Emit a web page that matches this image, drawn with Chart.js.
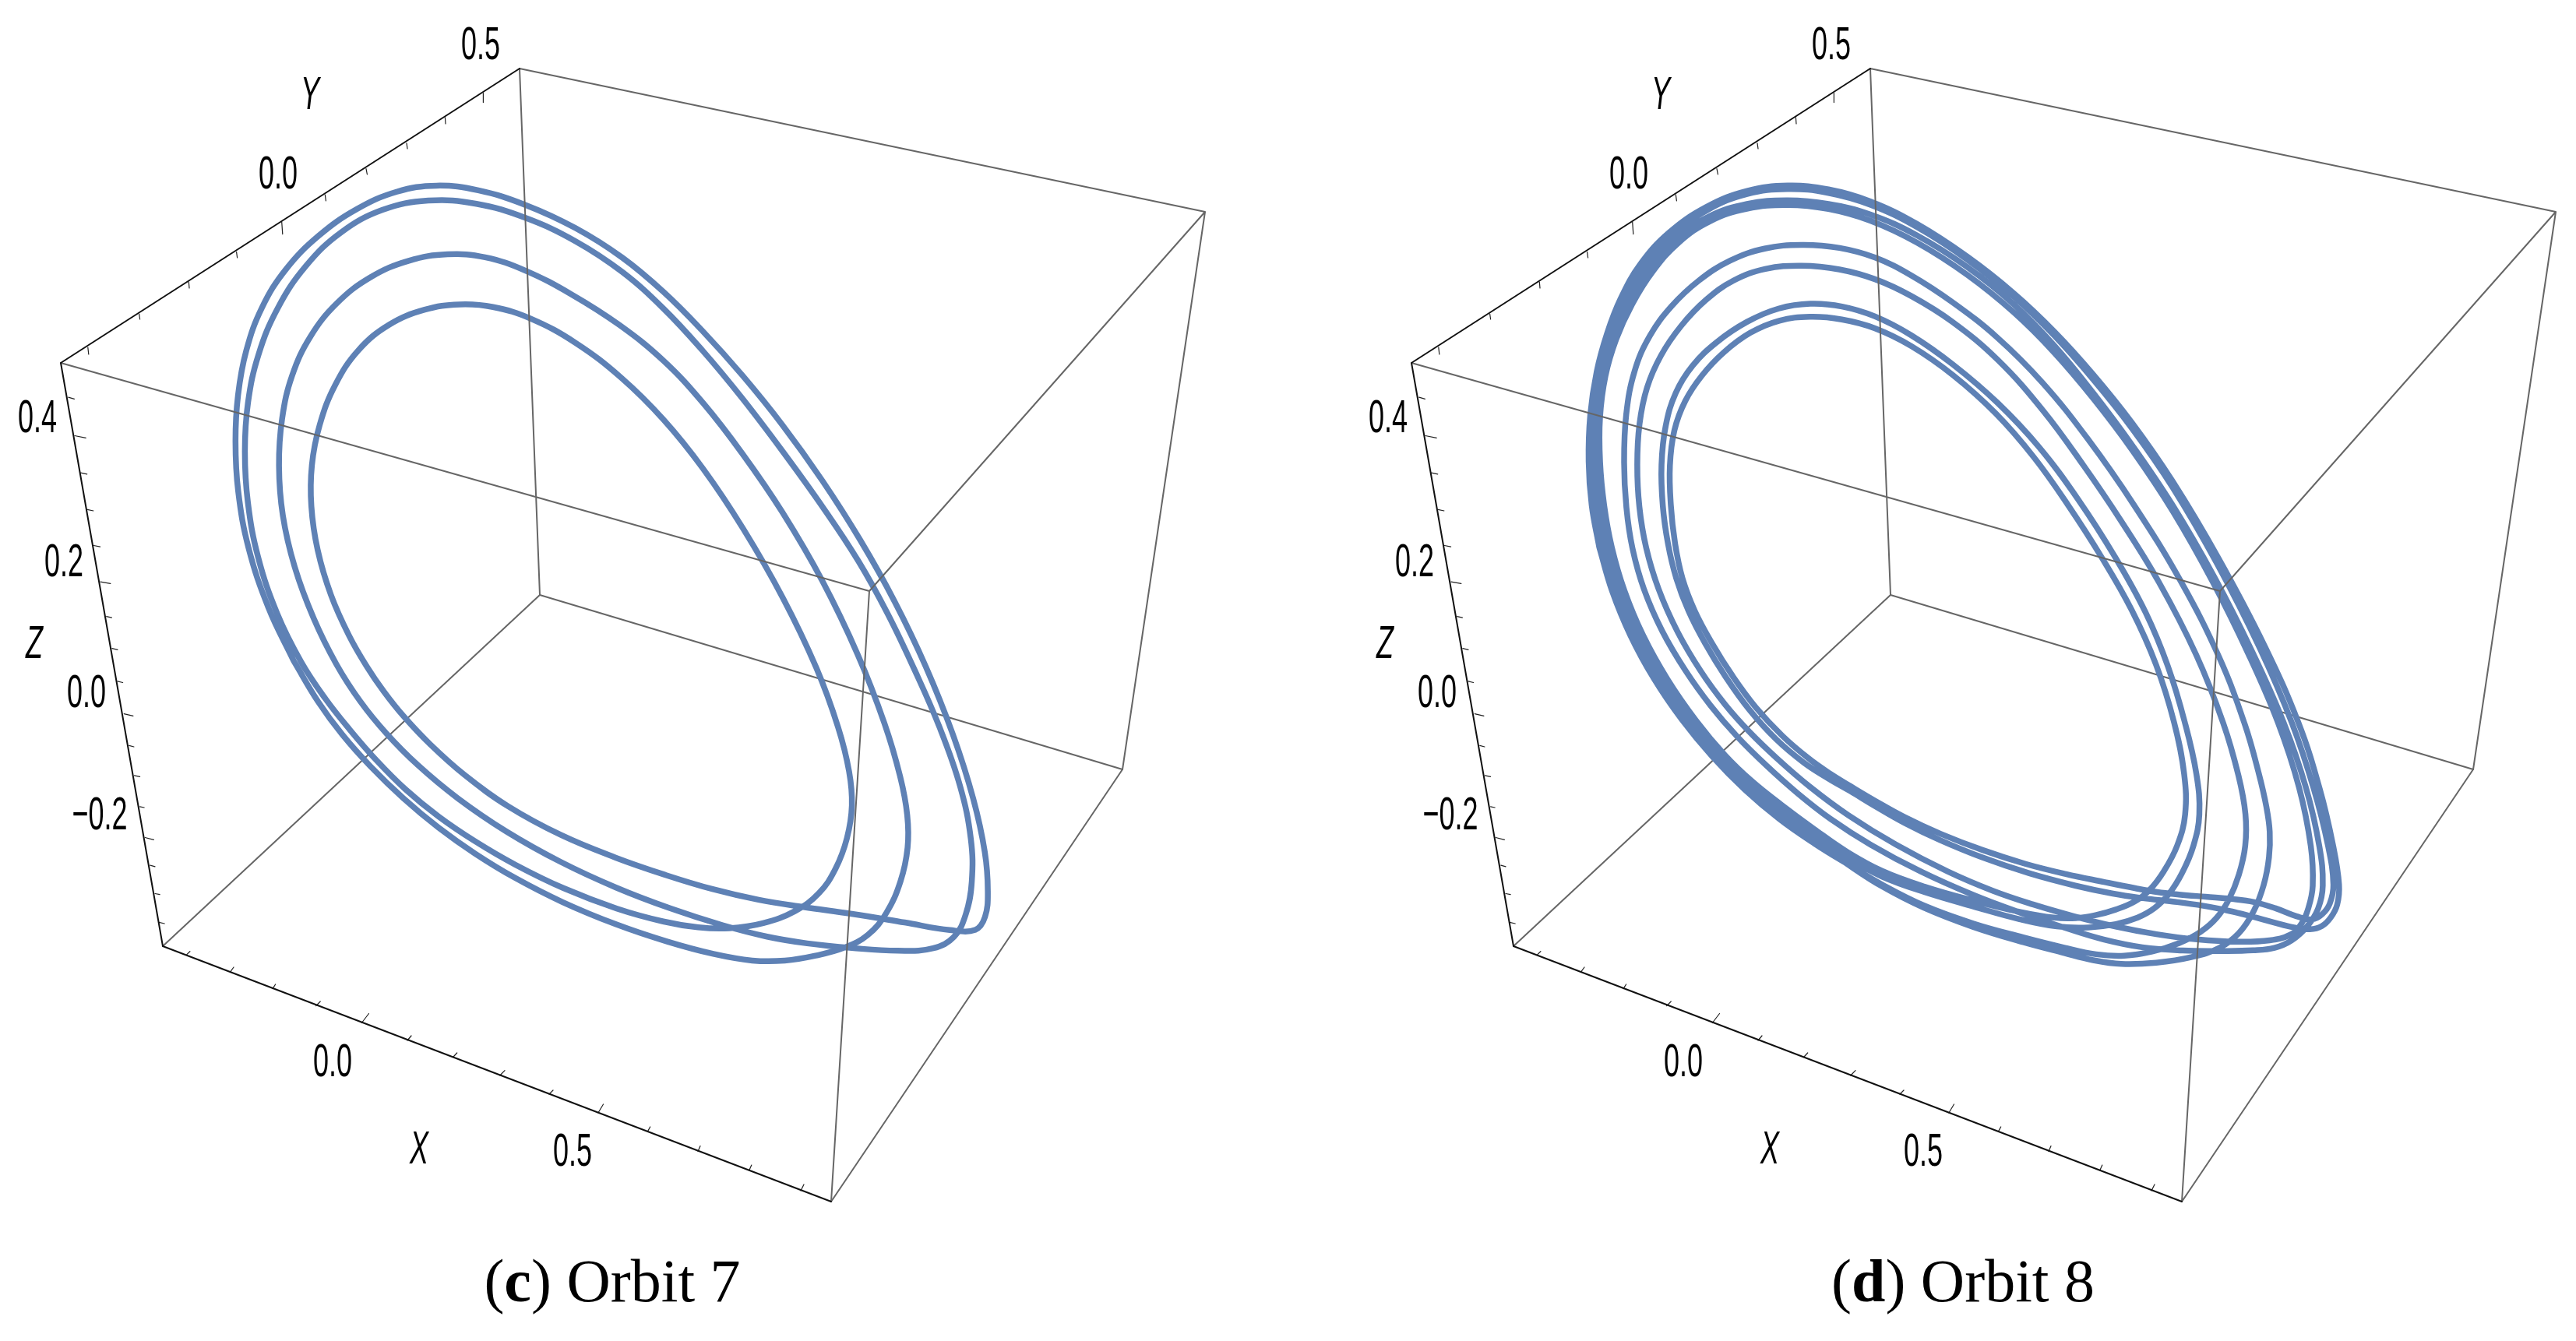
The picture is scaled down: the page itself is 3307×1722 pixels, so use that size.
<!DOCTYPE html>
<html>
<head>
<meta charset="utf-8">
<title>Orbit 7 and Orbit 8</title>
<script src="https://cdn.jsdelivr.net/npm/chart.js@4"></script>
<style>
    html, body { margin: 0; padding: 0; background: #fff; width: 3307px; height: 1722px; overflow: hidden; }
    canvas { position: absolute; top: 0; }
    #panelC { left: 0; }
    #panelD { left: 1734px; }
    .caption {
        position: absolute; top: 1600px; width: 800px; text-align: center;
        font-family: "Liberation Serif", serif; font-size: 78px; line-height: 90px; color: #000;
    }
</style>
</head>
<body>
<canvas id="panelC" width="1734" height="1722"></canvas>
<canvas id="panelD" width="1573" height="1722"></canvas>
<div class="caption" style="left:386px">(<b>c</b>) Orbit 7</div>
<div class="caption" style="left:2120px">(<b>d</b>) Orbit 8</div>
<script>
const tickTexts = ["0.5", "0.0", "0.4", "0.2", "0.0", "\u22120.2", "0.0", "0.5"];
const tickTextX = [617, 357, 48, 82, 111, 128, 427, 735];
const tickTextY = [59, 225, 538, 723, 891, 1048, 1365, 1480];
const axisNames = ["Y", "Z", "X"];
const axisNameX = [398, 44, 538];
const axisNameY = [123, 828, 1477];

// box edges [x0, y0, x1, y1]
const backEdges = [[693, 764, 209, 1215], [693, 764, 1441, 988]];
const frontEdges = [[78, 466, 1116, 759], [667, 88, 693, 764], [667, 88, 1547, 272], [1547, 272, 1116, 759], [1116, 759, 1067, 1543], [1067, 1543, 1441, 988], [1547, 272, 1441, 988]];
const axisEdges = [[667, 88, 78, 466], [78, 466, 209, 1215], [209, 1215, 1067, 1543]];

const yAxisTicks = [[620.4, 119.6, 620.4, 131.6], [571.4, 150.8, 572, 159], [522, 183.8, 523, 191], [470, 216.7, 471.4, 224], [417.3, 250, 418.4, 257.8], [361.7, 285, 362.8, 300.6], [303.6, 323.6, 304.6, 331], [242.3, 362, 243, 370], [178.6, 403, 179.6, 410], [112.8, 446, 113.8, 455]];
const zAxisTicks = [[87.8, 510.2, 95.4, 512.3], [95.9, 559.5, 110.2, 562.3], [103.6, 607.2, 111.7, 608.9], [112.2, 654.4, 119.9, 656], [120.4, 700.5, 128.6, 702.1], [129, 747.1, 141.8, 749.3], [136.7, 791.6, 143.4, 793.2], [143.9, 832.7, 151, 834.3], [151, 874.8, 157.6, 876.5], [159.2, 916.6, 170.9, 919.4], [165.8, 957.3, 171.9, 959], [172.4, 995.8, 179.6, 997.4], [179.6, 1035.9, 185.2, 1037], [186.2, 1075.5, 197.4, 1078.3], [192.9, 1111.2, 199, 1112.9], [199, 1147.5, 205.1, 1148.6], [204, 1184.4, 211.2, 1186]];
const xAxisTicks = [[239.8, 1225.6, 243.9, 1221.7], [295.9, 1247.6, 300, 1242], [350, 1269.6, 353.6, 1264], [405.6, 1291.6, 411.2, 1286], [464.3, 1313.5, 473.5, 1301.5], [523, 1336, 528, 1330], [581.6, 1357.5, 586.7, 1352], [641.8, 1381, 648, 1374.6], [705, 1405, 710, 1400], [767.9, 1429, 774.5, 1418], [831.6, 1452.6, 834.7, 1447], [896, 1478.5, 899, 1471.5], [961.7, 1503, 964.8, 1496], [1028, 1529, 1032, 1521]];

// orbit 7, one closed curve, four turns
const orbit7 = [
    [382, 855], [341.8, 778.9], [318.9, 702.1], [306.1, 630.8], [303.6, 565], [306.1, 510.1], [316.3, 449.8], [336.7, 395], [367.3, 345.6], [408.2, 304.4], [459.2, 268.8], [510.2, 245.2], [561.2, 240.3], [612.2, 244.1], [673.5, 263.3], [740, 294],
    [800, 330.4], [851, 376.3], [902, 424.8], [953, 483.5], [1004, 544.7], [1055, 616.1], [1106, 697.8], [1147, 769.2], [1187.8, 855.9], [1223.5, 942.5], [1249, 1024.9], [1264.3, 1096.4], [1267.9, 1140.4], [1261.7, 1178.9], [1249, 1192.6], [1228.6, 1196.4],
    [1157.1, 1181.6], [1090.8, 1173.4], [1029.6, 1163.5], [978.6, 1156.9], [912.2, 1142], [851, 1121], [800, 1103.5], [714.3, 1071.7], [653.1, 1035.9], [596.9, 994.7], [551, 953.5], [520.4, 923.2], [489.8, 882],
    [474.5, 860.1], [449, 817.3], [423.5, 762.5], [408.2, 707.6], [400.5, 647.3], [400.5, 597.9], [410.7, 548.5], [431.1, 493.7], [459.2, 449.8], [500, 416.9], [545.9, 397.7], [591.8, 392.2], [632.7, 396], [678.6, 408.7], [739.8, 438.8], [800, 488.6],
    [851, 539.6], [902, 600.8], [953, 677.3], [1004, 769.2], [1050, 855.9], [1075.5, 937], [1088.3, 991.9], [1093.4, 1030.4], [1088.3, 1074.4], [1070.4, 1118.4], [1050, 1145.9], [1024.5, 1167.9], [978.6, 1187.1], [932.7, 1191], [896.9, 1189.9], [851, 1181.6], [800, 1170.6],
    [714.3, 1137.6], [663.3, 1110.1], [612.2, 1079.9], [561.2, 1049.7], [520.4, 1011.2], [484.7, 978.2], [449, 937], [415, 890],
    [393, 860], [352, 784.4], [331.6, 713.1], [318.9, 647.3], [315.3, 576], [318.9, 521.1], [331.6, 455.3], [357.1, 395], [392.9, 342.8], [438.8, 299], [489.8, 268.8], [551, 258.9], [612.2, 262.2], [673.5, 279.8], [740, 312],
    [800, 348.3], [851, 396.7], [902, 452.9], [953, 509], [1004, 580.4], [1055, 651.8], [1106, 723.3], [1136.7, 784.5], [1172.4, 860], [1205, 931.5], [1233.7, 1008.4], [1246.4, 1079.9], [1246.4, 1129.4], [1238.8, 1173.4], [1223.5, 1203.6], [1198, 1217.3], [1157.1, 1220.1],
    [1090.8, 1217.3], [1029.6, 1209.1], [988.8, 1203.6], [932.7, 1189.8], [851, 1162.4], [800, 1143.1], [714.3, 1104.6], [653.1, 1068.9], [586.7, 1024.9], [535.7, 981], [497.4, 942.5], [462, 898.5],
    [433.7, 855.7], [403.1, 795.4], [377.6, 724.1], [363.3, 663.7], [358.7, 597.9], [363.3, 537.6], [375, 482.7], [398, 433.3], [433.7, 389.5], [474.5, 356.6], [525.5, 334.6], [576.5, 327.5], [622.4, 331.9], [673.5, 345.6], [729.6, 378.5],
    [800, 419.7], [851, 463.1], [902, 516.6], [953, 585.5], [1004, 656.9], [1055, 743.7], [1101, 840.6], [1136.7, 931.5], [1154.6, 997.4], [1163.3, 1046.9], [1164.8, 1085.4], [1157.1, 1129.4], [1136.7, 1176.1], [1111.2, 1200.8], [1088.3, 1214.6], [1044.9, 1227.2], [1004.1, 1232.7], [968.4, 1233.8], [917.3, 1225.6], [851, 1206.3], [800, 1189.8],
    [714.3, 1156.9], [663.3, 1126.6], [612.2, 1096.4], [561.2, 1063.4], [520.4, 1024.9], [474.5, 983.7], [438.8, 942.5], [408.2, 898.5]
];

// orbit 8, one closed curve, eight turns
const orbit8 = [
    [319.8, 700], [310, 650], [305.7, 596], [307.4, 530.2], [316.2, 477.4], [329.7, 428.7], [348, 384], [371, 340], [406.8, 300], [459, 264], [510, 246], [561, 239], [612, 243], [673, 263], [716, 280.6], [800, 335], [851, 378], [902, 425], [953, 481], [1004, 545], [1055, 620], [1106, 700], [1183, 850], [1215, 925], [1240, 1000], [1264, 1100], [1267.7, 1133], [1266, 1157], [1257.7, 1180], [1246, 1188], [1231, 1193.3], [1212.7, 1191.7], [1182.7, 1183], [1156, 1176.7], [1126, 1170], [1099.3, 1163.3], [1052.7, 1156.7], [1012.7, 1153.3], [982.7, 1148.3], [932.7, 1136.7], [866, 1121.7], [816, 1101.8], [751.8, 1077], [713.5, 1057.8], [675.2, 1036.8], [637, 1011.9], [615.9, 1000.4], [583.4, 981.3], [545.1, 948.8], [510.7, 910.5], [482, 868.4], [455.2, 826.3], [434.1, 784.2], [416.9, 742.1], [409.3, 699],
    [400.4, 650], [399, 596.4], [404.8, 547.3], [418.2, 502.7], [438.3, 471.4], [469.6, 440.2], [509.8, 413.4], [549.9, 395.5], [590.1, 391.1], [630.3, 394.6], [674.9, 406.7], [716, 429.9], [773.4, 468.1], [830.8, 517.9], [888.2, 579.1], [926.5, 632.7], [983.9, 720.2], [1022.2, 789.6], [1047, 850], [1068, 925], [1088.7, 1000], [1087.7, 1043.3], [1082.7, 1083.3], [1066, 1123.3], [1049.3, 1146.7], [1032.7, 1166.7], [1009.3, 1176.7], [982.7, 1186.7], [949.3, 1190.7], [899.3, 1188.3], [866, 1183.3], [799.3, 1161.7], [732.7, 1144], [682.7, 1128], [637.7, 1100], [598.7, 1074], [549, 1037], [512, 1006.5], [477, 971.7], [437, 925.8], [400, 868.4], [372, 818.6], [345, 757.4], [330, 700],
    [321, 650], [317.8, 596], [315.1, 532.1], [323.5, 481.2], [337.4, 433.5], [356.7, 388.8], [381.6, 346.9], [417.4, 306.6], [459, 278], [510, 262], [561, 258.5], [612, 262], [673, 279], [716, 296], [800, 348], [851, 392], [902, 443], [953, 504], [1004, 575], [1055, 650], [1106, 730], [1160, 850], [1197, 925], [1224, 1000], [1246, 1100], [1246, 1133], [1241, 1163.3], [1229.3, 1190], [1206, 1208.3], [1182.7, 1216.7], [1162.7, 1220], [1119.3, 1220], [1066, 1220.7], [1016, 1216.7], [966, 1206.7], [916, 1190], [866, 1173.3], [799.3, 1150], [732.7, 1120], [666, 1083], [612.7, 1050], [579.6, 1021.5], [533.6, 983.2], [493.5, 943], [464.8, 908.6], [430.3, 860.7], [399.7, 811], [376.7, 757.4], [361, 700],
    [355.7, 654.5], [351.3, 596.4], [353.5, 529.5], [364.7, 475.9], [384.8, 431.3], [411.5, 395.5], [447.3, 359.8], [487.4, 335.3], [532.1, 318.8], [576.7, 315.2], [630.3, 319.6], [674.9, 330.8], [716, 353.3], [773.4, 389.7], [830.8, 433.7], [888.2, 491.1], [945.6, 563.8], [1003, 648], [1066.2, 743.7], [1117.9, 850], [1146, 925], [1166, 1000], [1174.3, 1033.3], [1179.3, 1066.7], [1179.3, 1100], [1171, 1136.7], [1159.3, 1170], [1139.3, 1200], [1112.7, 1216.7], [1086, 1226.7], [1032.7, 1237.3], [982.7, 1237.3], [956, 1233.3], [916, 1221.7], [866, 1211], [799.3, 1191], [732.7, 1164], [682.7, 1139], [637.7, 1109], [598.7, 1080], [549, 1046], [509, 1010], [471, 971.7], [431, 925.8], [394, 868.4], [366.5, 818.6], [339, 757.4], [325, 700],
    [315, 650], [313, 596], [311.6, 531.3], [320.1, 479.5], [333.9, 431.3], [352.6, 386.6], [376.7, 343.7], [412.4, 303.5], [459, 268], [510, 250], [561, 243], [612, 248], [673, 267], [716, 284.4], [800, 339], [851, 382], [902, 430], [953, 488], [1004, 552], [1055, 628], [1106, 708], [1174, 850], [1207, 925], [1232, 1000], [1258, 1100], [1261, 1133], [1256, 1157], [1246, 1173], [1232.7, 1181.7], [1219.3, 1178.3], [1182.7, 1163.3], [1159.3, 1158.3], [1132.7, 1155], [1099.3, 1151.7], [1059.3, 1148.3], [1032.7, 1145], [1012.7, 1141.7], [966, 1131.7], [916, 1121.7], [866, 1110], [816, 1092.3], [751.8, 1069.3], [713.5, 1050.2], [675.2, 1029.1], [637, 1006.2], [617.8, 994.7], [591, 975.5], [552.8, 944.9], [518.3, 906.7], [491.5, 868.4], [464.8, 826.3], [441.8, 784.2], [424.6, 742.1], [418.2, 699],
    [411.5, 650], [409.3, 596.4], [416, 551.8], [429.4, 516.1], [451.7, 482.6], [478.5, 453.6], [514.2, 426.8], [549.9, 411.2], [590.1, 408], [630.3, 411.2], [674.9, 422.3], [716, 443.3], [773.4, 481.5], [830.8, 533.2], [876.7, 586.8], [918.8, 648], [964.8, 716.9], [1003, 785.8], [1033.6, 850], [1055, 925], [1072, 1000], [1069.3, 1043.3], [1062.7, 1083.3], [1042.7, 1120], [1022.7, 1143.3], [1009.3, 1156.7], [982.7, 1166.7], [952.7, 1176], [932.7, 1178.3], [899.3, 1176.7], [866, 1174], [799.3, 1155], [732.7, 1137], [682.7, 1120], [637.7, 1093], [598.7, 1067], [549, 1029], [515.5, 1004], [484, 971.7], [442, 925.8], [405.6, 868.4], [377, 818.6], [350, 757.4], [335.7, 700],
    [326, 650], [321, 596], [319.3, 533.2], [327.4, 483.3], [341.6, 436.1], [361.3, 391.4], [387.2, 350.4], [423, 310.2], [459, 285], [510, 268], [561, 264.3], [612, 268], [673, 287], [716, 306.6], [800, 356], [851, 404], [902, 452], [953, 511], [1004, 581], [1055, 657], [1106, 740], [1153, 850], [1190, 925], [1216, 1000], [1234.3, 1100], [1234.3, 1133], [1227.7, 1163.3], [1219.3, 1186.7], [1206, 1200], [1182.7, 1206.7], [1136, 1209.3], [1086, 1206.7], [1032.7, 1198.3], [982.7, 1190], [932.7, 1178.3], [866, 1156.7], [832.7, 1146.7], [766, 1120], [699.3, 1083.3], [636, 1046], [591, 1010], [549, 975.5], [508.8, 935.4], [483.9, 908.6], [449.4, 860.7], [418.8, 811], [395.9, 757.4], [379, 700],
    [371.4, 654.5], [368.2, 596.4], [371.4, 542.9], [380.3, 498.2], [398.1, 458], [424.9, 417.9], [456.2, 386.6], [491.9, 359.8], [532.1, 345.5], [576.7, 342], [630.3, 346.4], [674.9, 359.8], [716, 380.1], [773.4, 414.6], [830.8, 460.5], [888.2, 525.5], [945.6, 605.9], [983.9, 667.2], [1033.6, 736], [1091, 850], [1118, 925], [1139.3, 1000], [1147.7, 1043.3], [1149.3, 1083.3], [1139.3, 1123.3], [1126, 1156.7], [1112.7, 1176.7], [1089.3, 1196.7], [1066, 1210.7], [1026, 1221.7], [992.7, 1226.7], [956, 1226.7], [916, 1215], [866, 1203.3], [799.3, 1187], [732.7, 1162], [682.7, 1137], [637.7, 1106], [598.7, 1086], [549, 1052], [505.5, 1012], [465, 971.7], [426, 925.8], [388, 868.4], [361, 818.6], [334, 757.4]
];

// hand read points are a bit shaky, this takes the jitter out without shrinking the loop
function steadyTrace(pairs) {
    let pts = pairs.map(p => p.slice());
    const pass = (w) => {
        const n = pts.length;
        pts = pts.map((p, i) => {
            const a = pts[(i - 1 + n) % n], b = pts[(i + 1) % n];
            return [p[0] + w * ((a[0] + b[0]) / 2 - p[0]), p[1] + w * ((a[1] + b[1]) / 2 - p[1])];
        });
    };
    for (let k = 0; k < 3; k++) {
        pass(0.5);
        pass(-0.53);
    }
    pts.push(pts[0]);
    return pts.map(p => ({ x: p[0], y: p[1] }));
}

// several separate strokes in one dataset, NaN breaks the line
function toSegments(segments) {
    let points = [];
    segments.forEach(s => {
        points.push({ x: s[0], y: s[1] }, { x: s[2], y: s[3] }, { x: NaN, y: NaN });
    });
    return points;
}

function lineSet(data, color, width, order, tension) {
    return {
        data: data,
        showLine: true,
        borderColor: color,
        borderWidth: width,
        pointRadius: 0,
        tension: tension || 0,
        order: order,
        spanGaps: false,
        borderCapStyle: "round",
        borderJoinStyle: "round"
    };
}

// tick labels and axis names are squeezed like the original narrow font
const labelPlugin = {
    id: "boxLabels",
    afterDatasetsDraw(chart) {
        const ctx = chart.ctx;
        const sx = chart.scales.x, sy = chart.scales.y;
        const put = (text, x, y, font, squeeze) => {
            ctx.save();
            ctx.translate(sx.getPixelForValue(x), sy.getPixelForValue(y));
            ctx.scale(squeeze, 1);
            ctx.font = font;
            ctx.fillStyle = "#000";
            ctx.textAlign = "center";
            ctx.textBaseline = "middle";
            ctx.fillText(text, 0, 0);
            ctx.restore();
        };
        tickTexts.forEach((t, i) => put(t, tickTextX[i], tickTextY[i], '60px "Liberation Sans"', 0.6));
        axisNames.forEach((t, i) => put(t, axisNameX[i], axisNameY[i], 'italic 60px "Liberation Sans"', 0.6));
    }
};

function drawPanel(id, orbit) {
    const canvas = document.getElementById(id);
    new Chart(canvas.getContext("2d"), {
        type: "scatter",
        data: {
            datasets: [
                lineSet(toSegments(backEdges), "#666666", 2, 4),
                lineSet(steadyTrace(orbit), "#5E81B5", 7.5, 3, 0.4),
                lineSet(toSegments(frontEdges), "#666666", 2, 2),
                lineSet(toSegments(axisEdges), "#111111", 2, 1),
                lineSet(toSegments(yAxisTicks.concat(zAxisTicks, xAxisTicks)), "#222222", 1.2, 1)
            ]
        },
        options: {
            responsive: false,
            animation: false,
            layout: { padding: 0 },
            plugins: { legend: { display: false }, tooltip: { enabled: false } },
            scales: {
                x: { type: "linear", display: false, min: 0, max: canvas.width },
                y: { type: "linear", display: false, min: 0, max: canvas.height, reverse: true }
            }
        },
        plugins: [labelPlugin]
    });
}

drawPanel("panelC", orbit7);
drawPanel("panelD", orbit8);
</script>
</body>
</html>
